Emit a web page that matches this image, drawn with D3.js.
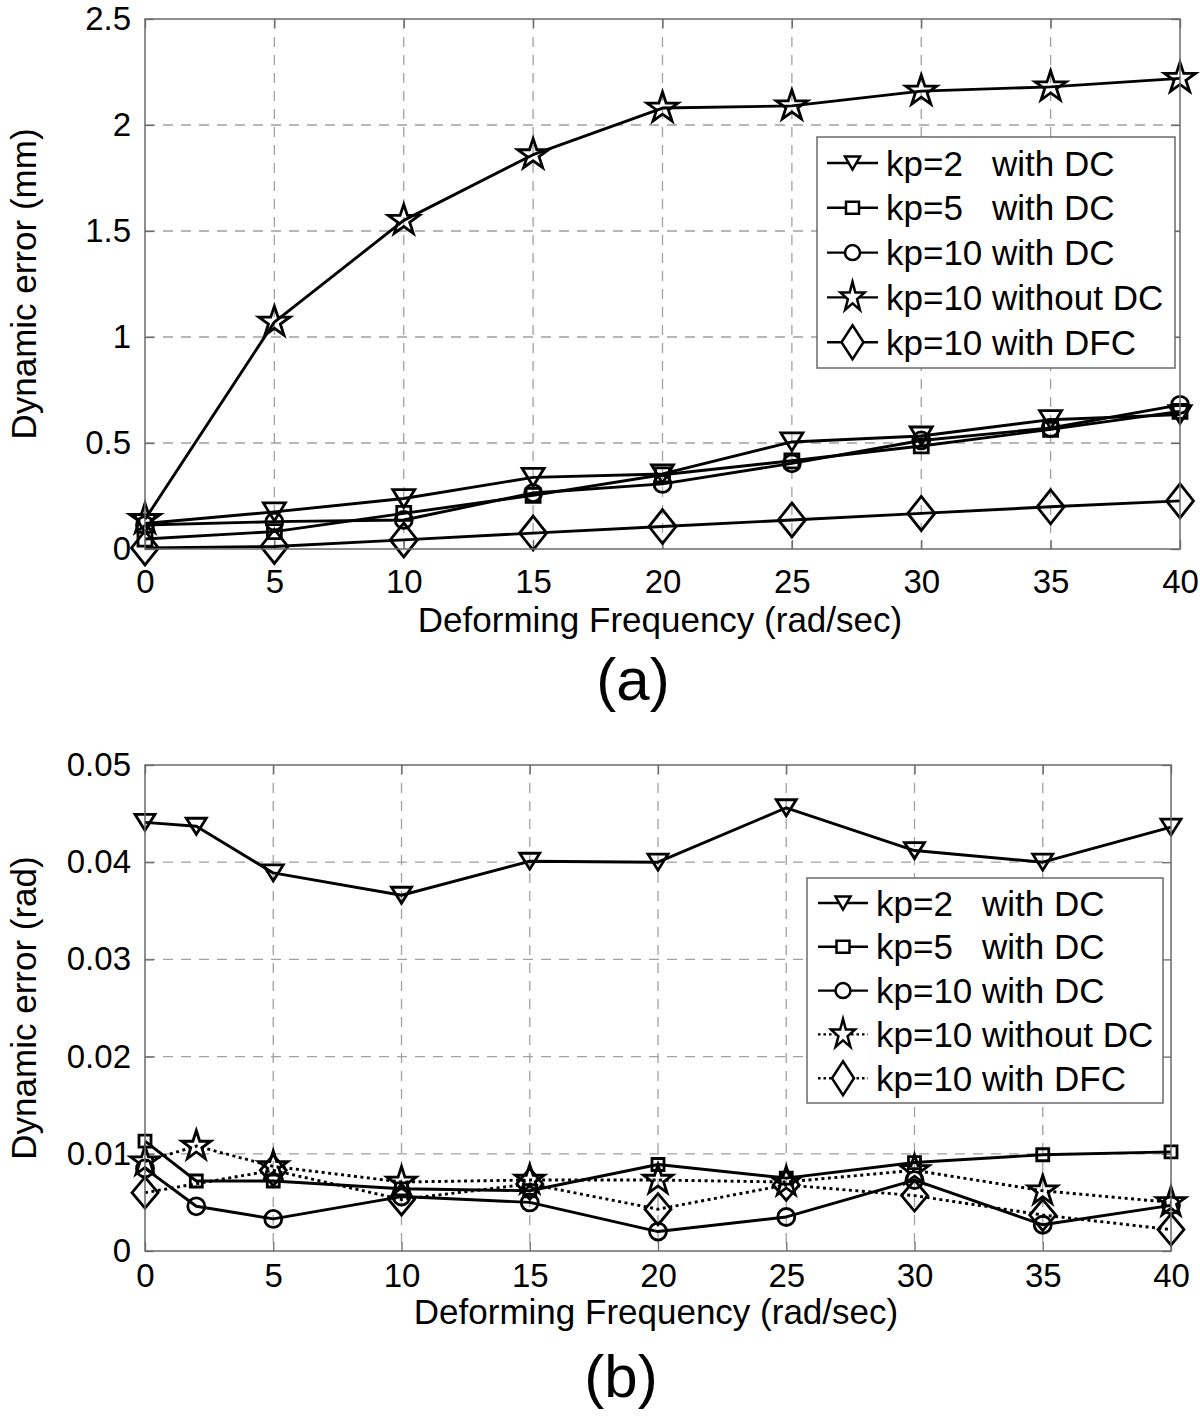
<!DOCTYPE html>
<html><head><meta charset="utf-8">
<script src="https://cdn.jsdelivr.net/npm/d3@7"></script>
<style>
body{margin:0;background:#fff}
svg{display:block}
text{font-family:"Liberation Sans",Arial,Helvetica,sans-serif;fill:#000}
</style>
</head><body>
<svg id="c" width="1200" height="1417"></svg>
<script>
// ---------- data ----------
const xTicks = [0,5,10,15,20,25,30,35,40];
const xTickLabels = ["0","5","10","15","20","25","30","35","40"];
const yTicksA = [0,0.5,1,1.5,2,2.5];
const yTickLabelsA = ["0","0.5","1","1.5","2","2.5"];
const yTicksB = [0,0.01,0.02,0.03,0.04,0.05];
const yTickLabelsB = ["0","0.01","0.02","0.03","0.04","0.05"];
const legendLabels = ["kp=2   with DC","kp=5   with DC","kp=10 with DC","kp=10 without DC","kp=10 with DFC"];
const xTitle = "Deforming Frequency (rad/sec)";
const yTitleA = "Dynamic error (mm)";
const yTitleB = "Dynamic error (rad)";
const panelLabels = ["(a)","(b)"];

const freqA = [0,5,10,15,20,25,30,35,40];
const a_kp2 = [0.12,0.175,0.238,0.338,0.354,0.505,0.533,0.61,0.634];
const a_kp5 = [0.047,0.082,0.168,0.253,0.35,0.416,0.486,0.564,0.649];
const a_kp10 = [0.113,0.129,0.137,0.264,0.307,0.404,0.512,0.571,0.68];
const a_kp10noDC = [0.14,1.07,1.55,1.86,2.08,2.09,2.16,2.18,2.22];
const a_kp10DFC = [0.005,0.012,0.043,0.075,0.106,0.137,0.168,0.199,0.227];

const freqB = [0,2,5,10,15,20,25,30,35,40];
const freqB_DFC = [0,5,10,15,20,25,30,35,40];
const b_kp2 = [0.0441,0.0437,0.0389,0.0366,0.0401,0.0400,0.0456,0.0412,0.0400,0.0436];
const b_kp5 = [0.0113,0.0072,0.0072,0.0064,0.0062,0.0089,0.0075,0.0091,0.0099,0.0102];
const b_kp10 = [0.0085,0.0046,0.0033,0.0056,0.0050,0.0020,0.0035,0.0073,0.0027,0.0047];
const b_kp10noDC = [0.0092,0.0108,0.0087,0.0071,0.0073,0.0073,0.0071,0.0083,0.0062,0.0050];
const b_kp10DFC = [0.0060,0.0083,0.0053,0.0069,0.0043,0.0068,0.0057,0.0037,0.0022];

// ---------- helpers ----------
const svg = d3.select("#c");
function sym(type, w, h){
  if(type==="tri") return `M${-w/2},${-h/2}L${w/2},${-h/2}L0,${h/2}Z`;
  if(type==="sq") return `M${-w/2},${-h/2}h${w}v${h}h${-w}Z`;
  if(type==="dia") return `M0,${-h/2}L${w/2},0L0,${h/2}L${-w/2},0Z`;
  if(type==="circ"){ const p=d3.path(); p.arc(0,0,w/2,0,2*Math.PI); p.closePath(); return p.toString(); }
  if(type==="star"){
    const pts=[]; const sx=w/2/0.951, sy=h/1.809;
    for(let i=0;i<10;i++){
      const r = i%2===0?1:0.382; const a = -Math.PI/2 + i*Math.PI/5;
      pts.push([r*Math.cos(a)*sx, r*Math.sin(a)*sy]);
    }
    return "M"+pts.map(p=>p[0].toFixed(2)+","+p[1].toFixed(2)).join("L")+"Z";
  }
}
const AX="#6a6a6a", GRID="#a0a0a0", LW=2.9;

function panel(cfg){
  const g = svg.append("g");
  const x = d3.scaleLinear().domain([0,40]).range([cfg.left,cfg.right]);
  const y = d3.scaleLinear().domain([cfg.yTicks[0],cfg.yTicks[cfg.yTicks.length-1]]).range([cfg.bottom,cfg.top]);
  // grid
  g.selectAll(".gx").data(xTicks.slice(1,-1)).join("line")
    .attr("x1",d=>x(d)).attr("x2",d=>x(d)).attr("y1",cfg.top).attr("y2",cfg.bottom)
    .attr("stroke",GRID).attr("stroke-width",1.3).attr("stroke-dasharray","10,8");
  g.selectAll(".gy").data(cfg.yTicks.slice(1,-1)).join("line")
    .attr("x1",cfg.left).attr("x2",cfg.right).attr("y1",d=>y(d)).attr("y2",d=>y(d))
    .attr("stroke",GRID).attr("stroke-width",1.3).attr("stroke-dasharray","10,8");
  // axes with inward ticks
  const fmtX=(d,i)=>xTickLabels[i], fmtY=(d,i)=>cfg.yLabels[i];
  const axB = g.append("g").attr("transform",`translate(0,${cfg.bottom})`)
    .call(d3.axisBottom(x).tickValues(xTicks).tickFormat(fmtX).tickSize(-9).tickPadding(cfg.xpad));
  const axL = g.append("g").attr("transform",`translate(${cfg.left},0)`)
    .call(d3.axisLeft(y).tickValues(cfg.yTicks).tickFormat(fmtY).tickSize(-9).tickPadding(14));
  const axT = g.append("g").attr("transform",`translate(0,${cfg.top})`)
    .call(d3.axisTop(x).tickValues(xTicks).tickFormat("").tickSize(-9));
  const axR = g.append("g").attr("transform",`translate(${cfg.right},0)`)
    .call(d3.axisRight(y).tickValues(cfg.yTicks).tickFormat("").tickSize(-9));
  [axB,axL,axT,axR].forEach(a=>{
    a.select(".domain").remove();
    a.selectAll(".tick line").attr("stroke",AX).attr("stroke-width",1.3);
    a.selectAll("text").attr("font-size",33).attr("fill","#000")
      .style("font-family",'"Liberation Sans",Arial,Helvetica,sans-serif');
  });
  // series
  cfg.series.forEach(s=>{
    const pts = s.x.map((xv,i)=>[x(xv), y(s.y[i])]);
    g.append("path").attr("d",d3.line()(pts)).attr("fill","none").attr("stroke","#000")
      .attr("stroke-width",LW).attr("stroke-dasharray",s.dash||null).attr("stroke-linejoin","round");
    g.selectAll(null).data(pts).join("path")
      .attr("transform",d=>`translate(${d[0]},${d[1]})`)
      .attr("d",sym(s.sym,s.w,s.h)).attr("fill","none").attr("stroke","#000").attr("stroke-width",2.8)
      .attr("stroke-linejoin","miter");
  });
  // box
  g.append("rect").attr("x",cfg.left).attr("y",cfg.top).attr("width",cfg.right-cfg.left).attr("height",cfg.bottom-cfg.top)
    .attr("fill","none").attr("stroke",AX).attr("stroke-width",1.5);
  // legend
  const L = cfg.legend;
  g.append("rect").attr("x",L.x0).attr("y",L.y0).attr("width",L.x1-L.x0).attr("height",L.y1-L.y0)
    .attr("fill","#fff").attr("stroke",AX).attr("stroke-width",1.5);
  cfg.series.forEach((s,i)=>{
    const ry = L.row0 + i*L.step;
    g.append("line").attr("x1",L.lx1).attr("x2",L.lx2).attr("y1",ry).attr("y2",ry)
      .attr("stroke","#000").attr("stroke-width",2.4).attr("stroke-dasharray",s.dash?"2.5,3":null);
    g.append("path").attr("transform",`translate(${(L.lx1+L.lx2)/2},${ry})`)
      .attr("d",sym(s.sym,s.lw,s.lh)).attr("fill","#fff").attr("stroke","#000").attr("stroke-width",2.5);
    g.append("text").attr("x",L.tx).attr("y",ry).attr("dy","0.36em").attr("font-size",35)
      .attr("xml:space","preserve").style("white-space","pre").text(legendLabels[i]);
  });
  // titles
  g.append("text").attr("x",cfg.xtx).attr("y",cfg.xty).attr("text-anchor","middle").attr("font-size",35).text(xTitle);
  g.append("text").attr("transform",`translate(36,${(cfg.top+cfg.bottom)/2}) rotate(-90)`)
    .attr("text-anchor","middle").attr("font-size",35).text(cfg.yTitle);
  g.append("text").attr("x",cfg.plx).attr("y",cfg.ply).attr("text-anchor","middle").attr("font-size",60).text(cfg.panel);
}

panel({
  left:145,right:1180,top:19,bottom:549,
  yTicks:yTicksA,yLabels:yTickLabelsA,yTitle:yTitleA,xpad:21,
  xtx:660,xty:632,plx:633,ply:700,panel:panelLabels[0],
  series:[
    {x:freqA,y:a_kp2,sym:"tri",w:22,h:18,lw:15,lh:13},
    {x:freqA,y:a_kp5,sym:"sq",w:14,h:14,lw:13,lh:12},
    {x:freqA,y:a_kp10,sym:"circ",w:17,h:17,lw:15,lh:15},
    {x:freqA,y:a_kp10noDC,sym:"star",w:31,h:29,lw:24,lh:28},
    {x:freqA,y:a_kp10DFC,sym:"dia",w:27,h:34,lw:22,lh:34}
  ],
  legend:{x0:817,y0:137,x1:1175,y1:368,row0:163,step:44.8,lx1:827,lx2:878,tx:886}
});
panel({
  left:145,right:1171,top:765,bottom:1251,
  yTicks:yTicksB,yLabels:yTickLabelsB,yTitle:yTitleB,xpad:13,
  xtx:656,xty:1324,plx:621,ply:1397,panel:panelLabels[1],
  series:[
    {x:freqB,y:b_kp2,sym:"tri",w:20,h:16,lw:15,lh:13},
    {x:freqB,y:b_kp5,sym:"sq",w:12,h:12,lw:13,lh:12},
    {x:freqB,y:b_kp10,sym:"circ",w:17,h:17,lw:15,lh:15},
    {x:freqB,y:b_kp10noDC,sym:"star",w:29,h:28,lw:24,lh:28,dash:"3,3.5"},
    {x:freqB_DFC,y:b_kp10DFC,sym:"dia",w:26,h:31,lw:22,lh:34,dash:"3,3.5"}
  ],
  legend:{x0:807,y0:878,x1:1163,y1:1103,row0:903,step:43.8,lx1:818,lx2:868,tx:876}
});
</script>
</body></html>
